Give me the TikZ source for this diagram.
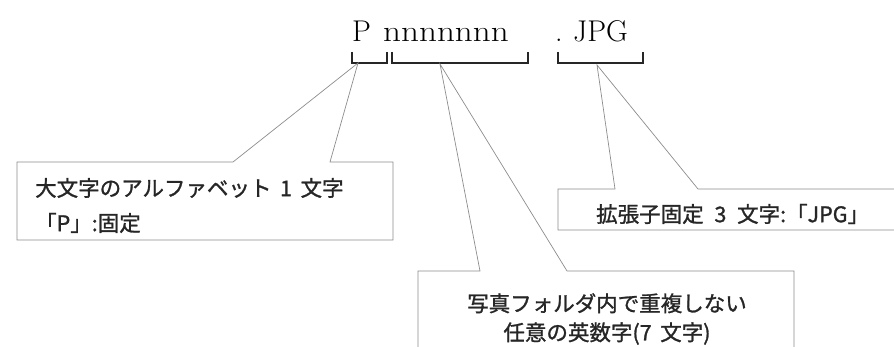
\documentclass[tikz,border=0pt]{standalone}
\usepackage{fontspec}
\usepackage{graphicx}
\usepackage{tikz}
\usetikzlibrary{positioning, calc}
\newfontfamily\jpfont[FakeBold=1.2]{Noto Sans CJK JP}

\begin{document}
\begin{tikzpicture}[
      x=1pt, y=-1pt,
      fname/.style={
        inner sep=0pt,
        anchor=base west,
        font=\fontsize{30}{36}\selectfont
      },
      brace/.style={
        line width=1.6pt,
        black!85
      },
      callout/.style={
        draw=black!45,
        line width=0.7pt,
        line join=miter
      },
      note/.style={
        inner sep=0pt,
        align=left,
        text=black!85,
        font=\jpfont\fontsize{21.5}{35}\selectfont
      }
    ]
    \useasboundingbox (0,0) rectangle (894,347);
    \clip (0,0) rectangle (894,347);

    % file name
    \node[fname] (pchar) at (352,42) {P};
    \node[fname] (nchars) at (383,42) {\scalebox{1.17}[1]{nnnnnnn}};
    \node[fname] (dot) at (555,42) {.};
    \node[fname] (ext) at (573,42) {JPG};

    % brackets under the name
    \draw[brace] (352,52) -- (352,63) -- (387,63) -- (387,52);
    \draw[brace] (392,52) -- (392,63) -- (528,63) -- (528,52);
    \draw[brace] (558,52) -- (558,63) -- (643,63) -- (643,52);

    \coordinate (tipP) at (358,63);
    \coordinate (tipN) at (440,64);
    \coordinate (tipE) at (597,65);

    % callouts
    \draw[callout] (17,162) -- (233,162) -- (tipP) -- (330,162)
      -- (393,162) -- (393,240) -- (17,240) -- cycle;
    \draw[callout] (894,189) -- (698,189) -- (tipE) -- (615,189)
      -- (558,189) -- (558,230) -- (894,230);
    \draw[callout] (418,347) -- (418,271) -- (480,271) -- (tipN)
      -- (567,271) -- (794,271) -- (794,347);

    \node[note, anchor=west] (pnote) at (35,205.5) {
      大文字のアルファベット\hspace{0.4em}1\hspace{0.4em}文字\\
      「P」:固定
    };
    \node[note, anchor=west] (enote) at (596,214) {
      拡張子固定\hspace{0.5em}3\hspace{0.5em}文字:「JPG」
    };
    \node[note, align=center, font=\jpfont\fontsize{21.5}{29}\selectfont] (nnote) at (607,319) {
      写真フォルダ内で重複しない\\
      任意の英数字(7\hspace{0.4em}文字)
    };

\end{tikzpicture}
\end{document}
